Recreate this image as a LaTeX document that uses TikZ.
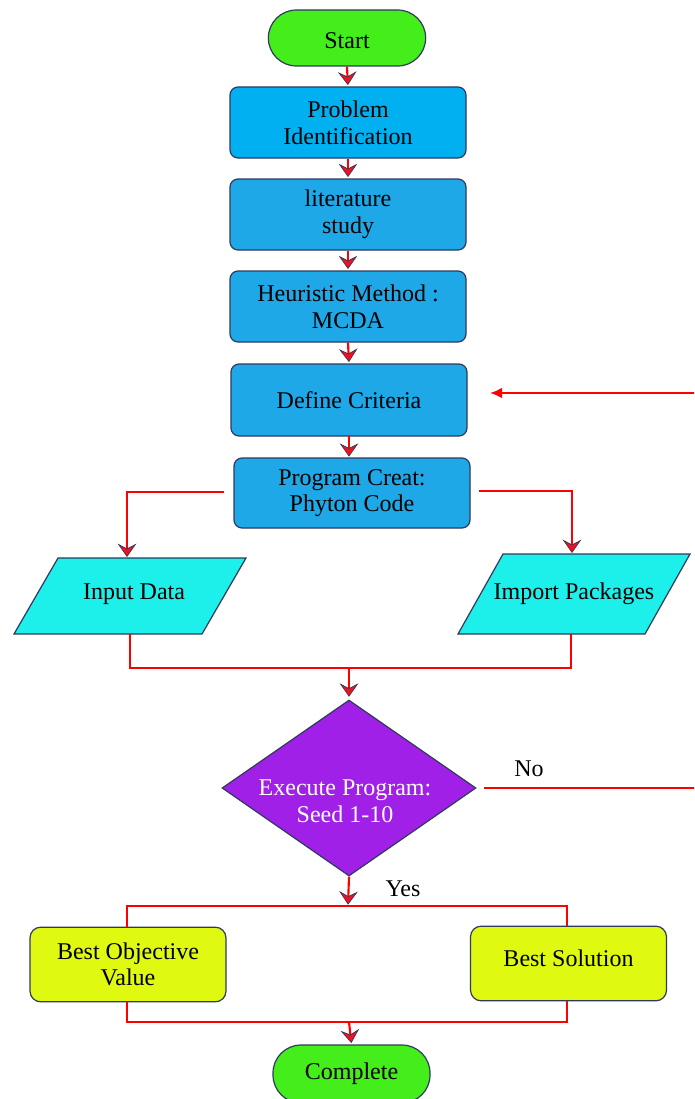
\documentclass[tikz,border=0pt]{standalone}
\usepackage{fontspec}
\setmainfont{Liberation Serif}
\usetikzlibrary{arrows.meta,shapes.geometric}
\definecolor{edge}{HTML}{2F3A5C}
\definecolor{startgreen}{HTML}{44EE1A}
\definecolor{probblue}{HTML}{00B0F0}
\definecolor{boxblue}{HTML}{1EA8E8}
\definecolor{paracyan}{HTML}{1DEFEA}
\definecolor{decpurple}{HTML}{A020E8}
\definecolor{resyellow}{HTML}{DFFA10}
\definecolor{linkred}{HTML}{FF0000}
\definecolor{chevred}{HTML}{F01020}
\begin{document}
\begin{tikzpicture}[x=0.75pt,y=-0.75pt,
  every node/.style={font=\fontsize{18}{20}\selectfont, text=black},
  box/.style={draw=edge, line width=0.9pt, rounded corners=6pt, align=center,
    minimum width=177pt, minimum height=53.25pt, inner sep=0pt, fill=boxblue},
  pill/.style={draw=edge, line width=0.9pt, rounded corners=21pt, align=center,
    minimum width=118pt, minimum height=42pt, inner sep=0pt, fill=startgreen},
  res/.style={draw=edge, line width=0.9pt, rounded corners=8pt, align=center,
    minimum width=147pt, minimum height=56pt, inner sep=0pt, fill=resyellow},
  para/.style={draw=edge, line width=0.9pt, fill=paracyan},
  link/.style={draw=linkred, line width=1.6pt},
  chev/.style={-{Stealth[length=10pt,width=14pt,inset=3.6pt,color=edge,fill=chevred,line width=0.5pt]}},
  back/.style={-{Latex[length=9pt,width=8pt,color=linkred]}},
  lbl/.style={inner sep=0pt}
]
\clip (0,0) rectangle (694,1099);
\useasboundingbox (0,0) rectangle (694,1099);

% main column
\node[pill, text height=16.5pt, text depth=0pt] (start) at (347,38) {Start};
\node[box, fill=probblue] (prob) at (348,122.5) {Problem\\Identification};
\node[box] (lit) at (348,214.5) {literature\\ study};
\node[box] (heur) at (348,306.5) {Heuristic Method :\\MCDA};
\node[box, minimum height=54pt] (def) at (349,400) {Define Criteria};
\node[box, minimum height=52.5pt] (prog) at (352,493) {Program Creat:\\Phyton Code};

% parallelograms
\path[para] (14,634) -- (58,558) -- (246,558) -- (202,634) -- cycle;
\path[para] (458,634) -- (503,554) -- (690,554) -- (645,634) -- cycle;
\node[lbl] (in) at (134,594) {Input Data};
\node[lbl] (imp) at (574,594) {Import Packages};

% decision
\node[draw=edge, line width=0.9pt, fill=decpurple, diamond, aspect=1.44,
  minimum width=190.5pt, minimum height=132pt, inner sep=0pt] (dec) at (349,788) {};
\node[lbl, text=white, align=center] (dect) at (345,801) {Execute Program:\\Seed 1-10};

% results
\node[res] (bov) at (128,964.5) {Best Objective\\Value};
\node[res, text height=12.5pt, text depth=7.8pt] (bs) at (568.5,963.5) {Best Solution};
\node[pill, minimum width=117.75pt, minimum height=43.5pt] (comp) at (351.5,1074) {Complete};

% labels
\node[lbl] (no) at (529,769) {No};
\node[lbl] (yes) at (403,889) {Yes};

% coordinates
\coordinate (pl) at (224,492);
\coordinate (pr) at (479,491);
\coordinate (inTop) at (127,557);
\coordinate (impTop) at (572,553);
\coordinate (inBot) at (130,634);
\coordinate (impBot) at (571,634);
\coordinate (mergeA) at (349,668);
\coordinate (decR) at (484,788);
\coordinate (farR) at (705,788);
\coordinate (farD) at (705,393);
\coordinate (defR) at (490,393);
\coordinate (yesJ) at (348,906);
\coordinate (bovTop) at (127,927);
\coordinate (bsTop) at (567,926);
\coordinate (bovBot) at (127,1002);
\coordinate (bsBot) at (567,1001);
\coordinate (mergeB) at (349,1022);
\coordinate (defS) at (349,436);
\coordinate (progN) at (349,458);

% straight chevron links
\draw[link, chev, shorten >=1pt] (start.south) -- (prob.north);
\draw[link, chev, shorten >=1pt] (prob.south) -- (lit.north);
\draw[link, chev, shorten >=1pt] (lit.south) -- (heur.north);
\draw[link, chev, shorten >=1pt] (heur.south) -- (def.north);
\draw[link, chev, shorten >=1pt] (defS) -- (progN);

% branches from program
\draw[link, chev] (pl) -| (inTop);
\draw[link, chev] (pr) -| (impTop);

% merge into decision
\draw[link] (inBot) |- (mergeA) -| (impBot);
\draw[link, chev, shorten >=2pt] (mergeA) -- (dec.north);

% No loop back
\draw[link, back] (decR) -- (farR) -- (farD) -- (defR);

% Yes
\draw[link, chev, shorten >=1pt] (dec.south) -- (yesJ);
\draw[link] (bovTop) |- (yesJ) -| (bsTop);

% merge into complete
\draw[link] (bovBot) |- (mergeB) -| (bsBot);
\draw[link, chev, shorten >=1pt] (mergeB) -- (comp.north);
\end{tikzpicture}
\end{document}
